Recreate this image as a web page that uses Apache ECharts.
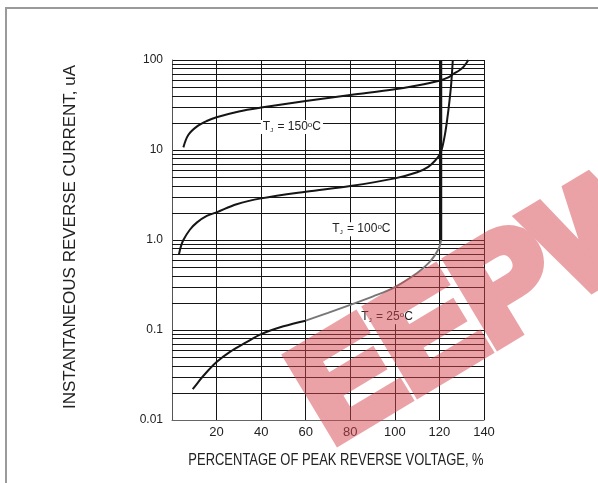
<!DOCTYPE html>
<html><head><meta charset="utf-8">
<script src="https://cdn.jsdelivr.net/npm/echarts@6/dist/echarts.min.js"></script>
<style>html,body{margin:0;padding:0;background:#fff}
#wrap{position:relative;width:598px;height:483px}
#c,#wm{position:absolute;left:0;top:0;width:598px;height:483px}
#wm{opacity:0.5;pointer-events:none}</style>
</head><body><div id="wrap"><div id="c"></div><div id="wm"></div></div><script>
// ---- data ----
const t150 = [[5.1,10.7],[7.3,14.7],[11.1,18.2],[15.6,21],[20,23.1],[30,26.8],[40,29.6],[60,35],[80,40.8],[100,47.2],[110,52],[120,58.9],[124,64],[126.3,70],[129,77],[131,85],[133,100]];
const t100 = [[3.1,0.69],[4,0.85],[5.1,1.0],[8,1.3],[11.1,1.56],[15.6,1.85],[20,2.03],[29,2.5],[40,2.9],[60,3.44],[80,3.98],[100,4.84],[110,5.65],[115,6.5],[118,7.6],[120,8.8],[121.2,10.5],[122.5,15],[123.5,22],[124.5,35],[125.3,55],[126,100]];
const t25 = [[9.3,0.022],[11.1,0.0251],[14,0.0308],[20,0.044],[26,0.0572],[33,0.0722],[40,0.09],[50,0.11],[60,0.127],[70,0.155],[80,0.19],[90,0.235],[100,0.3],[110,0.43],[115,0.55],[118,0.68],[120,0.84],[120.7,1.0],[120.7,100]];
const labels = [
  {name:'150', coord:[53.8,18.0]},
  {name:'100', coord:[85,1.32]},
  {name:'25',  coord:[96.5,0.139]}
];
const yTickValues = [0.01,0.1,1,10,100];
const yTickLabels = ['0.01','0.1','1.0','10','100'];
const xTickLabels = ['','20','40','60','80','100','120','140'];
const mantissas = [2,3,4,5,6,7,8,9];
const decades = [0.01,0.1,1,10];
const xTitle = 'PERCENTAGE OF PEAK REVERSE VOLTAGE, %';
const yTitle = 'INSTANTANEOUS REVERSE CURRENT, uA';
const watermark = 'EEPW';

const minorLines = [];
decades.forEach(d => mantissas.forEach(m => minorLines.push({yAxis: +(d*m).toPrecision(3)})));

// 25C curve split by colour: black to x=60, grey to 1.0, then vertical black
const i60 = t25.findIndex(p => p[0] === 60);
const iTop = t25.length - 2;
const t25a = t25.slice(0, i60 + 1);
const t25b = t25.slice(i60, iTop + 1);
const t25c = t25.slice(iTop);

const FF = 'Liberation Sans, Arial, sans-serif';
const rich = {
  a:{fontFamily:FF, fontSize:12, color:'#222'},
  s:{fontFamily:FF, fontSize:6, color:'#222', verticalAlign:'bottom', padding:[0,1,0,0]},
  o:{fontFamily:FF, fontSize:8, color:'#222', verticalAlign:'top'}
};
function mk(l){
  return {
    symbol:'rect', symbolSize:1, itemStyle:{color:'rgba(0,0,0,0)'}, silent:true,
    label:{show:true, position:'inside', backgroundColor:'#fff', padding:[1,2,1,2],
      formatter:'{a|T}{s|J}{a| = ' + l.name + '}{o|o}{a|C}', rich:rich},
    data:[{coord:l.coord}]
  };
}
const lineStyleBlack = {color:'#151515', width:2};
const curve = {type:'line', showSymbol:false, smooth:0.35, z:5};

const chart = echarts.init(document.getElementById('c'), null, {renderer:'canvas'});
chart.setOption({
  animation:false,
  backgroundColor:'#fff',
  grid:{left:172, right:114, top:60, bottom:63},
  xAxis:{type:'value', min:0, max:140, interval:20,
    axisLine:{show:true, lineStyle:{color:'#666', width:1}},
    axisTick:{show:false},
    axisLabel:{margin:6, fontSize:13, fontFamily:FF, color:'#222',
      formatter:v => xTickLabels[Math.round(v/20)]},
    splitLine:{show:true, lineStyle:{color:'#151515', width:1}}
  },
  yAxis:{type:'log', logBase:10, min:0.01, max:100,
    axisLine:{show:true, lineStyle:{color:'#555', width:1}},
    axisTick:{show:false},
    axisLabel:{margin:9, fontSize:12, fontFamily:FF, color:'#222',
      formatter:v => { const i = yTickValues.findIndex(t => Math.abs(Math.log10(t) - Math.log10(v)) < 1e-6); return i >= 0 ? yTickLabels[i] : ''; }},
    splitLine:{show:true, lineStyle:{color:'#151515', width:1}}
  },
  series:[
    {type:'line', data:[], silent:true,
      markLine:{silent:true, symbol:'none', label:{show:false}, animation:false,
        lineStyle:{color:'#151515', width:1, type:'solid'}, data:minorLines}},
    Object.assign({}, curve, {data:t150, lineStyle:lineStyleBlack, markPoint:mk(labels[0])}),
    Object.assign({}, curve, {data:t100, lineStyle:lineStyleBlack, markPoint:mk(labels[1])}),
    Object.assign({}, curve, {data:t25a, lineStyle:lineStyleBlack}),
    Object.assign({}, curve, {data:t25b, lineStyle:{color:'#777', width:2}, markPoint:mk(labels[2])}),
    {type:'line', data:t25c, showSymbol:false, lineStyle:{color:'#151515', width:2.5}, z:5}
  ],
  graphic:[
    {type:'rect', shape:{x:6,y:8,width:700,height:700}, style:{fill:'none', stroke:'#9a9a9a', lineWidth:2}, z:1, silent:true},
    {type:'text', x:70, y:237, rotation:Math.PI/2, style:{text:yTitle, fontSize:17, fontFamily:FF, fill:'#222', textAlign:'center', textVerticalAlign:'middle'}, silent:true},
    {type:'text', x:336, y:461, scaleX:0.81, style:{text:xTitle, fontSize:16, fontFamily:FF, fill:'#222', textAlign:'center', textVerticalAlign:'middle'}, silent:true}
  ]
});

// watermark on its own transparent layer (layer opacity set in CSS)
const wm = echarts.init(document.getElementById('wm'), null, {renderer:'canvas'});
wm.setOption({
  animation:false,
  graphic:[
    {type:'text', x:311, y:411, rotation:31*Math.PI/180, silent:true,
      style:{text:watermark, fontSize:140, fontWeight:'bold', fontFamily:FF, fill:'#d5454d', stroke:'#d5454d', lineWidth:12, lineJoin:'miter', textAlign:'left', textVerticalAlign:'middle'}}
  ]
});
</script></body></html>
